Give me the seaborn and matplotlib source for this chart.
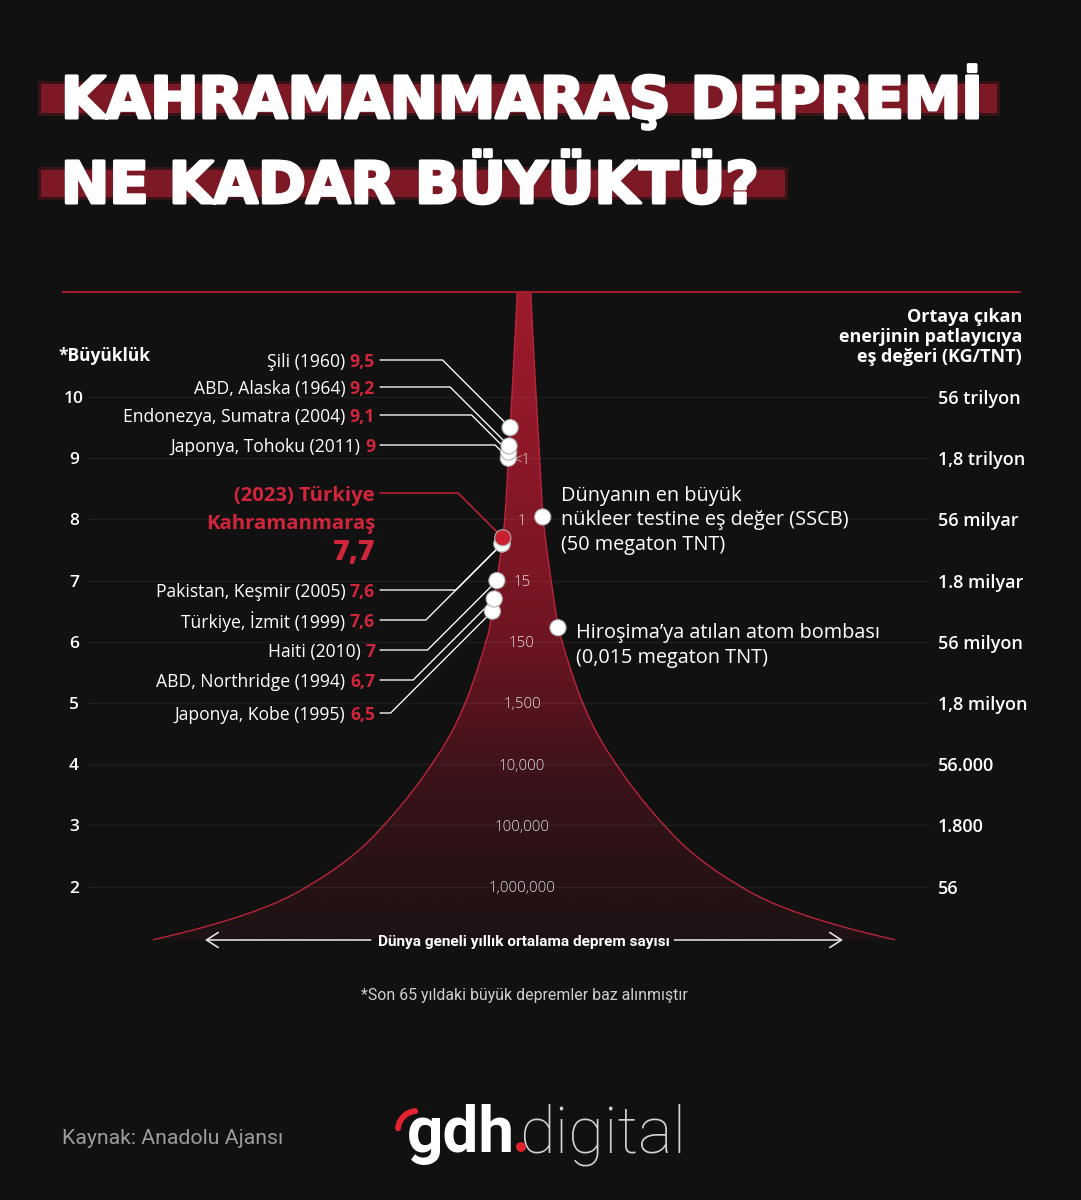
import numpy as np
import pandas as pd
import matplotlib
matplotlib.use("Agg")
import matplotlib.pyplot as plt
import seaborn as sns
from matplotlib import font_manager
from matplotlib.colors import LinearSegmentedColormap
from matplotlib.patches import Rectangle, Circle, PathPatch
from matplotlib.path import Path
import matplotlib.patheffects as pe

# ---------------- data ----------------
title_lines = ["KAHRAMANMARAŞ DEPREMİ", "NE KADAR BÜYÜKTÜ?"]
magnitude_ticks = [10, 9, 8, 7, 6, 5, 4, 3, 2]
energy_labels = ["56 trilyon", "1,8 trilyon", "56 milyar", "1.8 milyar", "56 milyon",
                 "1,8 milyon", "56.000", "1.800", "56"]
energy_header = ["Ortaya çıkan", "enerjinin patlayıcıya", "eş değeri (KG/TNT)"]
count_mags = [9, 8, 7, 6, 5, 4, 3, 2]
count_labels = ["<1", "1", "15", "150", "1,500", "10,000", "100,000", "1,000,000"]

quake_names = ["Şili (1960)", "ABD, Alaska (1964)", "Endonezya, Sumatra (2004)",
               "Japonya, Tohoku (2011)", "Pakistan, Keşmir (2005)", "Türkiye, İzmit (1999)",
               "Haiti (2010)", "ABD, Northridge (1994)", "Japonya, Kobe (1995)"]
quake_values = ["9,5", "9,2", "9,1", "9", "7,6", "7,6", "7", "6,7", "6,5"]
quake_mags = [9.5, 9.2, 9.1, 9.0, 7.6, 7.6, 7.0, 6.7, 6.5]

turkey_lines = ["(2023) Türkiye", "Kahramanmaraş"]
turkey_value = "7,7"
turkey_mag = 7.7

funnel_mag = [11.72, 10.74, 9.66, 9.0, 8.02, 7.6, 7.01, 6.23, 6.03, 5.49, 4.93,
              4.40, 4.0, 3.58, 2.99, 2.49, 2.0, 1.67, 1.35, 1.13]
funnel_halfwidth = [6.7, 9.7, 13.3, 15.7, 18.8, 22, 27, 34, 37.5, 47.5, 60,
                    76, 92, 110, 140, 171, 215, 255, 315, 371]

ref_mags = [8.04, 6.23]
ref_lines = [["Dünyanın en büyük", "nükleer testine eş değer (SSCB)", "(50 megaton TNT)"],
             ["Hiroşima’ya atılan atom bombası", "(0,015 megaton TNT)"]]

axis_title = "*Büyüklük"
count_caption = "Dünya geneli yıllık ortalama deprem sayısı"
footnote = "*Son 65 yıldaki büyük depremler baz alınmıştır"
source = "Kaynak: Anadolu Ajansı"
logo_parts = ["gdh", "digital"]

# ---------------- style ----------------
W, H = 1081, 1200
BG = "#111111"
RED = "#d0253a"
EDGE = "#b9253a"

sns.set_theme(style="dark", rc={"axes.facecolor": BG, "figure.facecolor": BG,
                                "savefig.facecolor": BG})
available = {f.name for f in font_manager.fontManager.ttflist}


def pick(*names):
    for n in names:
        if n in available:
            return n
    return "DejaVu Sans"


BODY = pick("Open Sans", "Lato", "Noto Sans", "Roboto")
COND = pick("Roboto", "Lato", "Open Sans")
LOGO = pick("Roboto", "Lato", "Open Sans")
plt.rcParams["font.family"] = [BODY, "DejaVu Sans"]

fig = plt.figure(figsize=(W / 100, H / 100), dpi=100)
renderer = fig.canvas.get_renderer()

Y10, PXM = 397.0, 61.2   # pixel row of magnitude 10, pixels per magnitude unit


def mag_of(py):
    return 10 - (py - Y10) / PXM


def py_of(m):
    return Y10 + (10 - m) * PXM


ax = fig.add_axes([0, 0, 1, 1])
deco = fig.add_axes([0, 0, 1, 1], facecolor="none")


def size_for(s, target_w, **kw):
    t = deco.text(0, 0, s, fontsize=20, **kw)
    w = t.get_window_extent(renderer).width
    t.remove()
    return 20 * target_w / w


def smooth_path(pts, first=True):
    """Quadratic-Bezier rendering through the read points (midpoint smoothing)."""
    pts = np.asarray(pts, float)
    verts = [pts[0]]
    codes = [Path.MOVETO if first else Path.LINETO]
    verts.append((pts[0] + pts[1]) / 2)
    codes.append(Path.LINETO)
    for i in range(1, len(pts) - 1):
        verts += [pts[i], (pts[i] + pts[i + 1]) / 2]
        codes += [Path.CURVE3, Path.CURVE3]
    verts.append(pts[-1])
    codes.append(Path.LINETO)
    return verts, codes


# ---------------- title ----------------
for (x0, y0, w, h) in [(41, 84, 956, 29), (41, 170, 744, 27)]:
    deco.add_patch(Rectangle((x0 - 3, y0 - 3), w + 6, h + 6, color="#7a1822", alpha=0.35, lw=0, zorder=1))
    deco.add_patch(Rectangle((x0, y0), w, h, color="#7d1924", lw=0, zorder=1))
tfs = size_for(title_lines[0], 920, family="DejaVu Sans", weight="bold")
for line, base in zip(title_lines, [118, 203]):
    deco.text(61, base, line, fontsize=tfs, family="DejaVu Sans", weight="bold", color="white",
              va="baseline", ha="left", zorder=3,
              path_effects=[pe.withStroke(linewidth=2.2, foreground="white")])

# ---------------- chart ----------------
fm = np.array(funnel_mag)
fh = np.array(funnel_halfwidth)
CX = 524
left_pts = np.column_stack([CX - fh, fm])
right_pts = np.column_stack([CX + fh, fm])
lv, lc = smooth_path(left_pts)
rv, rc = smooth_path(right_pts[::-1], first=False)
outline = Path(lv + rv + [lv[0]], lc + rc + [Path.CLOSEPOLY])
clip = PathPatch(outline, facecolor="none", edgecolor="none")
ax.add_patch(clip)
cmap = LinearSegmentedColormap.from_list("funnel", [
    (0.0, "#9c1b2c"), (0.256, "#8c1828"), (0.446, "#7a1624"), (0.542, "#6c1521"),
    (0.636, "#58141e"), (0.730, "#40131a"), (0.824, "#301217"), (0.918, "#261215"),
    (1.0, "#1e1214")])
grad = np.linspace(0, 1, 400).reshape(-1, 1)
im = ax.imshow(grad, cmap=cmap, extent=[CX - 380, CX + 380, fm.min(), fm.max()],
               aspect="auto", origin="upper", zorder=1, interpolation="bilinear")
im.set_clip_path(clip)
for pts in (left_pts, right_pts):
    v, c = smooth_path(pts)
    ax.add_patch(PathPatch(Path(v, c), facecolor="none", edgecolor=EDGE, lw=1.0, zorder=2))

# top rule and grid
ax.hlines(mag_of(292), 62, 1021, color="#a81d2e", lw=1.4, zorder=2)
ax.hlines(magnitude_ticks, 88, 930, color="white", alpha=0.055, lw=1.0, zorder=2)

# magnitude tick labels
for m in magnitude_ticks:
    ax.text(74, m, str(m), ha="center", va="center_baseline", color="white",
            fontsize=12.5, weight="semibold")
deco.text(58, 354, axis_title, ha="left", va="center_baseline", color="white",
          fontsize=size_for(axis_title, 92, weight="bold"), weight="bold")

# energy labels and header
efs = size_for("56 trilyon", 82, weight="semibold")
for m, lab in zip(magnitude_ticks, energy_labels):
    ax.text(938, m, lab, ha="left", va="center_baseline", color="white", fontsize=efs,
            weight="semibold")
hfs = size_for(energy_header[1], 184, weight="bold")
for line, py in zip(energy_header, [315, 335, 355]):
    deco.text(1022, py, line, ha="right", va="center_baseline", color="white",
              fontsize=hfs, weight="bold")

# counts inside funnel
cfs = size_for("1,000,000", 68, weight="normal")
for m, lab in zip(count_mags, count_labels):
    ax.text(522, m, lab, ha="center", va="center_baseline", color="#dcdcdc",
            fontsize=cfs, weight="light", zorder=4)


def hw_at(m):
    return np.interp(m, fm[::-1], fh[::-1])


# dots
rows = []
for name, m in zip(quake_names, quake_mags):
    rows.append({"x": CX - hw_at(m), "mag": m, "kind": "quake"})
rows.append({"x": CX - hw_at(turkey_mag), "mag": turkey_mag, "kind": "turkey"})
for m in ref_mags:
    rows.append({"x": CX + hw_at(m), "mag": m, "kind": "ref"})
dots = pd.DataFrame(rows).sort_values("mag", kind="stable")
dots["order"] = np.arange(len(dots))
dots.loc[dots["kind"] == "turkey", "order"] += 0.5
dots = dots.sort_values("order")

# connectors + labels
LABEL_RIGHT = 375
label_py = [360, 387, 415, 445, 590, 620, 650, 680, 713]
lfs = size_for("Endonezya, Sumatra (2004) 9,1", 252, weight="normal")
for name, val, m, lpy in zip(quake_names, quake_values, quake_mags, label_py):
    dx, dpy = CX - hw_at(m), py_of(m)
    ex = dx - abs(dpy - lpy)
    ax.plot([LABEL_RIGHT + 5, ex, dx], [mag_of(lpy), mag_of(lpy), m], color="white",
            lw=0.95, zorder=5, solid_joinstyle="miter")
    tv = ax.text(LABEL_RIGHT, mag_of(lpy), val, ha="right", va="center_baseline", color=RED,
                 fontsize=lfs, weight="bold")
    vw = tv.get_window_extent(renderer).width
    ax.text(LABEL_RIGHT - vw - lfs * 0.36, mag_of(lpy), name, ha="right", va="center_baseline",
            color="white", fontsize=lfs, weight="normal")

# Türkiye label
tfs2 = size_for(turkey_lines[1], 168, weight="bold")
for line, py in zip(turkey_lines, [493, 521]):
    ax.text(LABEL_RIGHT, mag_of(py), line, ha="right", va="center_baseline", color=RED,
            fontsize=tfs2, weight="bold")
ax.text(LABEL_RIGHT, mag_of(549), turkey_value, ha="right", va="center_baseline", color=RED,
        fontsize=tfs2 * 1.42, weight="heavy")
tdx, tdpy = CX - hw_at(turkey_mag), py_of(turkey_mag)
tex = tdx - abs(tdpy - 493)
ax.plot([LABEL_RIGHT + 5, tex, tdx], [mag_of(493), mag_of(493), turkey_mag], color=RED,
        lw=1.0, zorder=5)

sns.scatterplot(data=dots, x="x", y="mag", hue="kind",
                palette={"quake": "white", "turkey": "#c8202f", "ref": "white"},
                s=135, edgecolor="#b0b0b0", linewidth=0.8, legend=False, ax=ax, zorder=6)

# reference annotations
rfs = size_for(ref_lines[0][1], 286, weight="medium")
for m, lines, first_off in zip(ref_mags, ref_lines, [-23.5, 3.0]):
    dx, dpy = CX + hw_at(m), py_of(m)
    for k, line in enumerate(lines):
        ax.text(dx + 18, mag_of(dpy + first_off + 24.5 * k), line, ha="left",
                va="center_baseline", color="white", fontsize=rfs, weight="medium")

# bottom caption with arrows
ym = mag_of(940)
cap = ax.text(524, ym, count_caption, ha="center", va="center_baseline", color="white",
              fontsize=size_for(count_caption, 290, family=[COND, "DejaVu Sans"], weight="bold"),
              family=[COND, "DejaVu Sans"], weight="bold", zorder=4)
bb = cap.get_window_extent(renderer)
for start, end in [(bb.x0 - 6, 205), (bb.x1 + 6, 843)]:
    ax.annotate("", xy=(end, ym), xytext=(start, ym),
                arrowprops=dict(arrowstyle="->,head_length=0.7,head_width=0.45",
                                color="#dddddd", lw=1.2, shrinkA=0, shrinkB=0))

ax.set_xlim(0, W)
ax.set_ylim(mag_of(H), mag_of(0))
ax.axis("off")

# ---------------- footer ----------------
deco.text(524, 994, footnote, ha="center", va="center_baseline", color="#cfcfcf",
          fontsize=size_for(footnote, 325, family=[COND, "DejaVu Sans"]),
          family=[COND, "DejaVu Sans"])
deco.text(62, 1137, source, ha="left", va="center_baseline", color="#9c9c9c",
          fontsize=size_for(source, 221, family=[COND, "DejaVu Sans"]),
          family=[COND, "DejaVu Sans"])
deco.text(407, 1152, logo_parts[0], ha="left", va="baseline", color="white",
          fontsize=size_for(logo_parts[0], 108, family=LOGO, weight="bold"),
          family=LOGO, weight="bold")
deco.text(519, 1152, logo_parts[1], ha="left", va="baseline", color="#d2d2d2",
          fontsize=size_for(logo_parts[1], 167, family=LOGO, weight="light"),
          family=LOGO, weight="light")
deco.add_patch(Circle((521, 1147), 4.2, color="#e3232f", zorder=5))
t = np.radians(np.linspace(95, 175, 30))
deco.plot(417 + 19 * np.cos(t), 1130 - 19 * np.sin(t), color="#e3232f", lw=4.2,
          solid_capstyle="round")

deco.set_xlim(0, W)
deco.set_ylim(H, 0)
deco.axis("off")

fig.savefig("out.png", dpi=100, facecolor=BG)
